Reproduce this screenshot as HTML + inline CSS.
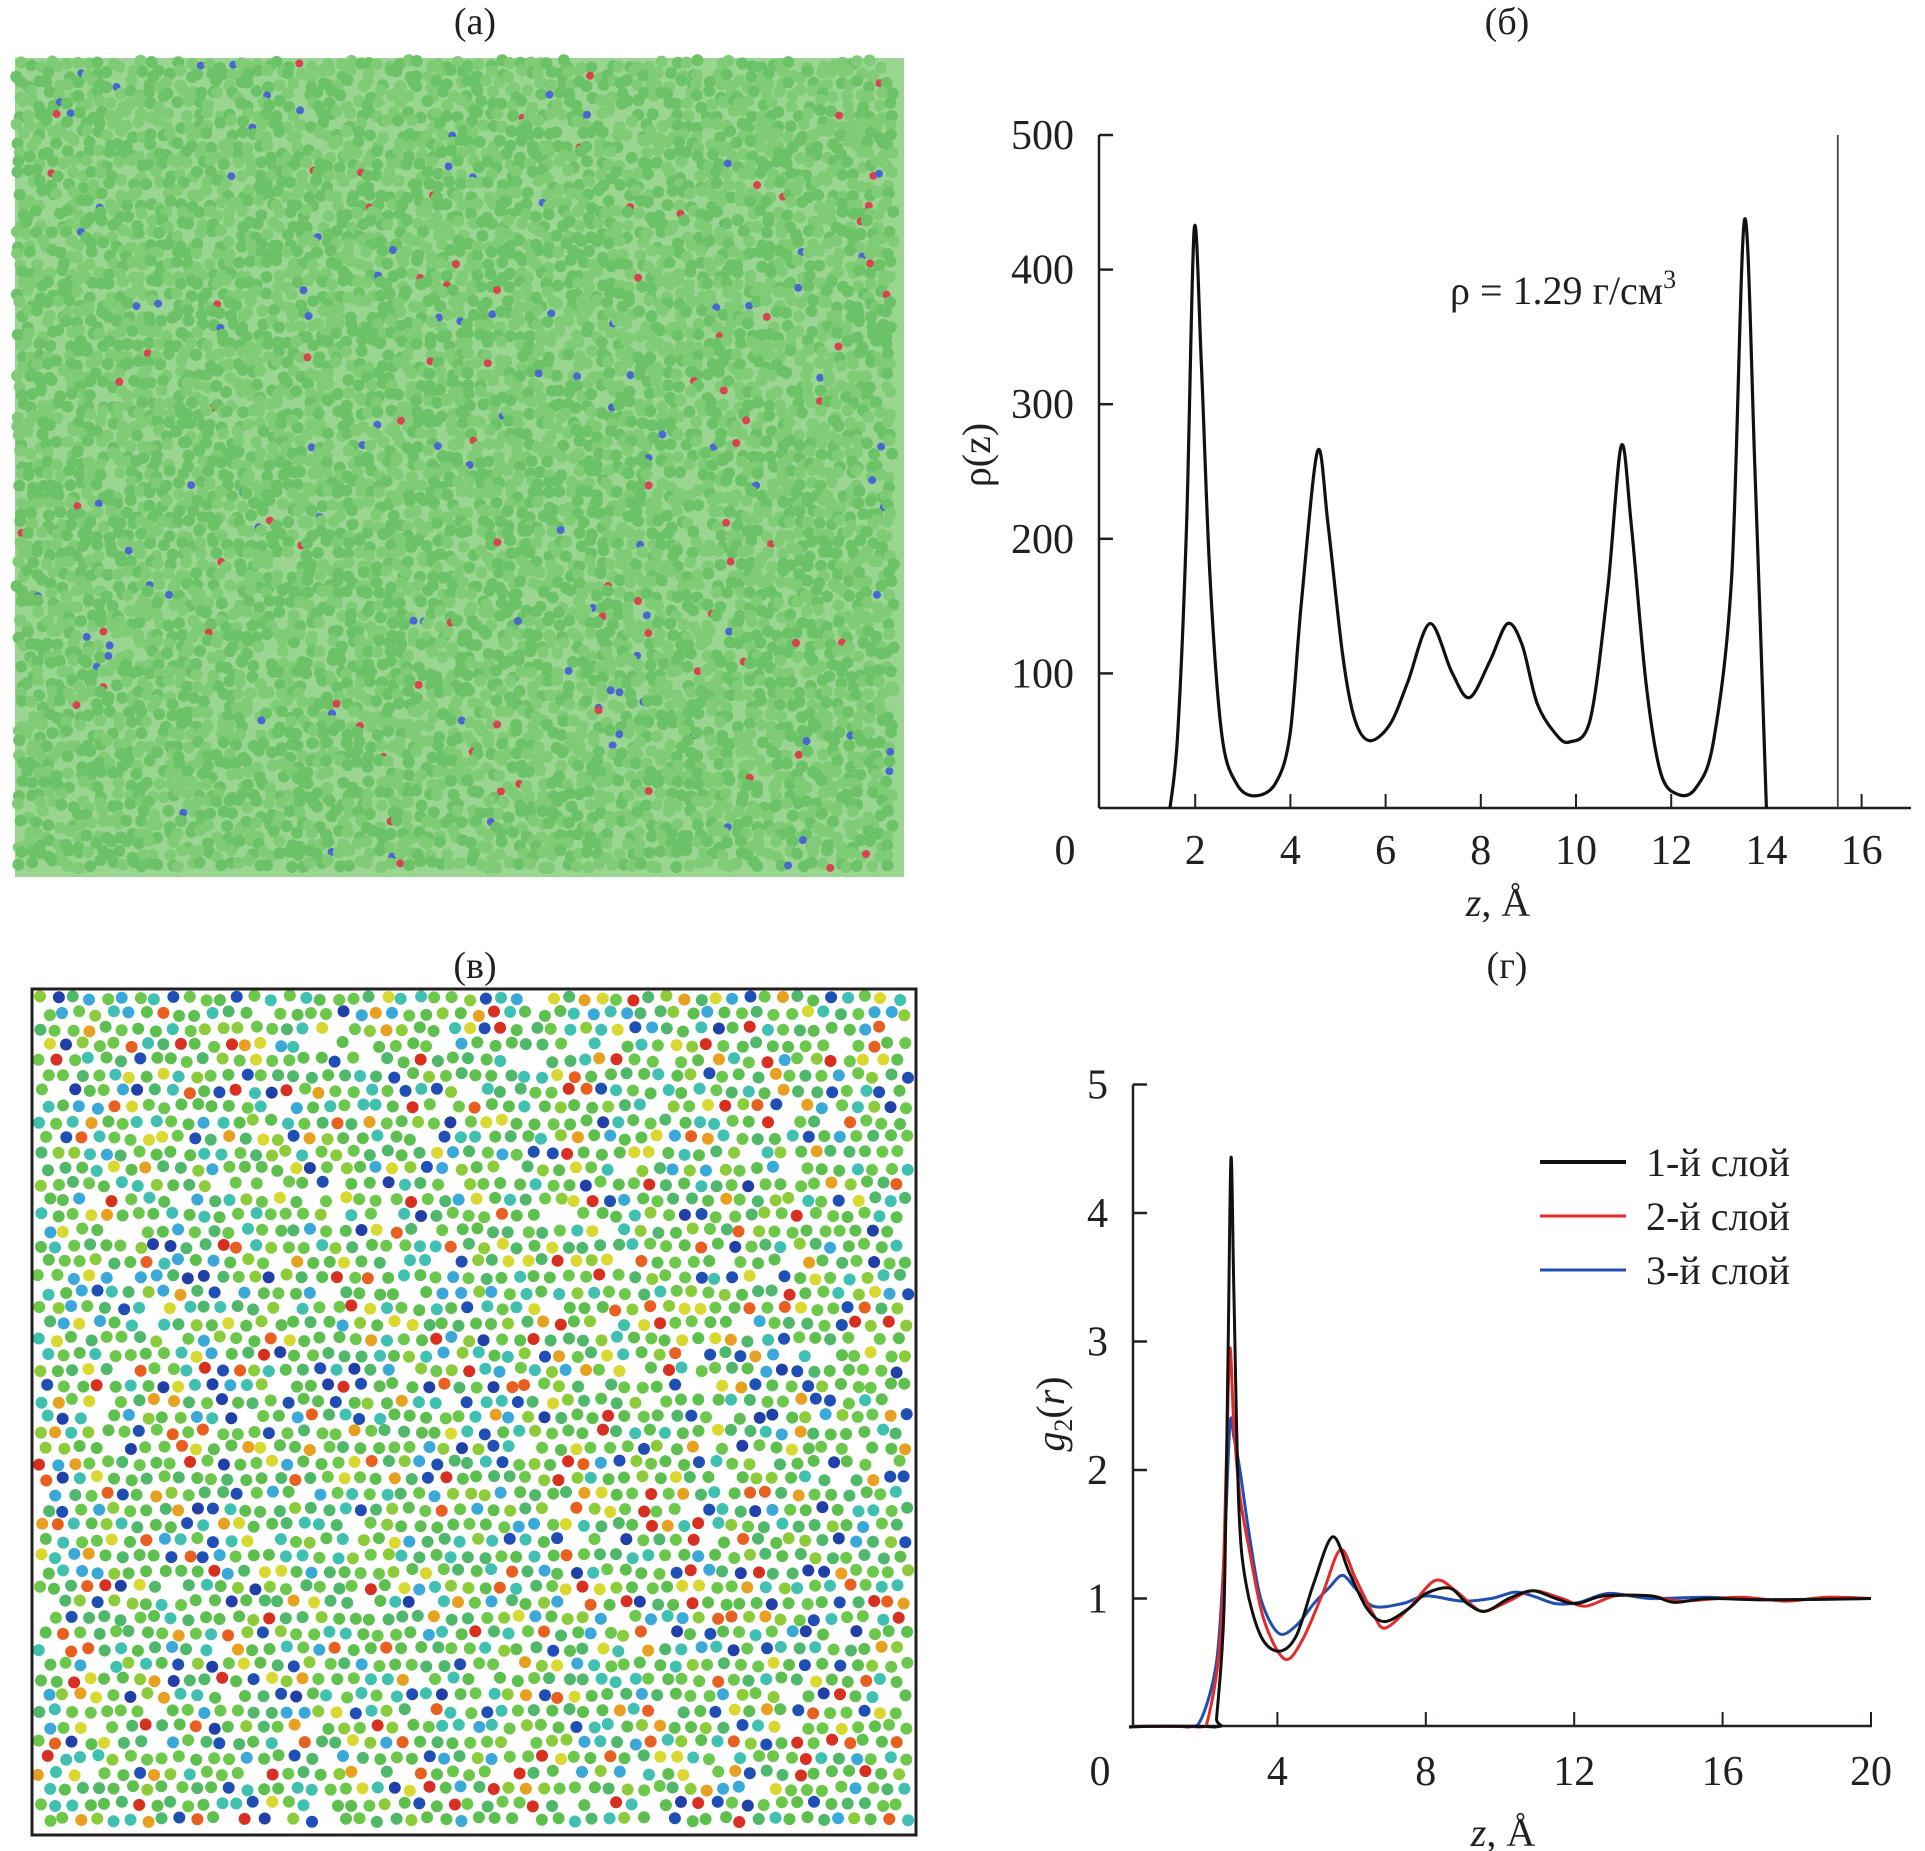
<!DOCTYPE html>
<html><head><meta charset="utf-8">
<style>
html,body{margin:0;padding:0;background:#fff;}
svg{display:block;font-family:"Liberation Serif","DejaVu Serif",serif;}
text{font-family:"Liberation Serif","DejaVu Serif",serif;fill:#231f20;}
</style></head>
<body>
<svg id="fig" width="1925" height="1851" viewBox="0 0 1925 1851" xmlns="http://www.w3.org/2000/svg" font-family="Liberation Serif, DejaVu Serif, serif">
  <text x="475" y="34" font-size="38" text-anchor="middle">(а)</text>
  <text x="1507" y="34" font-size="38" text-anchor="middle">(б)</text>
  <text x="475" y="978" font-size="38" text-anchor="middle">(в)</text>
  <text x="1507" y="978" font-size="38" text-anchor="middle">(г)</text>

  <g id="panelA">
    <rect x="15" y="58" width="889" height="819" fill="#9ad692"/>
  </g>
  <g id="panelC"></g>
  <rect x="32" y="989" width="884" height="846" fill="none" stroke="#231f20" stroke-width="3"/>

  <g id="chartB">
    <text transform="translate(990,455) rotate(-90)" font-size="40" text-anchor="middle">ρ(z)</text>
    <text x="1498" y="916" font-size="40" text-anchor="middle"><tspan font-style="italic">z</tspan>, Å</text>
    <text x="1450" y="304" font-size="40">ρ = 1.29 г/см<tspan font-size="26" dy="-16">3</tspan></text>
  </g>
  <g id="chartD">
    <text transform="translate(1064,1414) rotate(-90)" font-size="40" text-anchor="middle"><tspan font-style="italic">g</tspan><tspan font-size="26" dy="8">2</tspan><tspan dy="-8">(</tspan><tspan font-style="italic">r</tspan>)</text>
    <text x="1503" y="1846" font-size="40" text-anchor="middle"><tspan font-style="italic">z</tspan>, Å</text>
  </g>
</svg>
<script>
// ---------- Chart (б) data ----------
const rhoZ = [1.47,1.63,1.82,1.98,2.13,2.31,2.56,2.87,3.24,3.68,3.99,4.23,4.57,4.79,5.1,5.35,5.66,6.09,6.46,6.93,7.39,7.76,8.19,8.56,8.87,9.18,9.55,9.86,10.3,10.67,10.95,11.16,11.47,11.78,12.15,12.52,12.89,13.27,13.54,13.76,14.0];
const rhoVal = [0,54,211,430,329,172,54,18,9,18,54,152,265,211,113,66,50,62,93,137,101,82,109,137,121,78,56,49,66,164,269,211,93,26,10,15,50,172,437,250,0];
const rhoYTicks = [100,200,300,400,500];
const rhoXTicks = [2,4,6,8,10,12,14,16];
const boxEdgeZ = [15.5];

// ---------- Chart (г) data ----------
const gZ1 = [0,2.32,2.36,2.56,2.67,2.75,2.83,2.96,3.15,3.55,4.03,4.51,4.98,5.49,5.94,6.42,6.89,7.53,8.01,8.65,9.12,9.6,10.24,10.88,11.5,12.07,12.8,14.06,14.7,15.6,17.2,20];
const gV1 = [0,0,0.07,0.92,2.93,4.43,3.34,1.72,1.12,0.71,0.59,0.71,1.12,1.48,1.2,0.92,0.82,0.92,1.04,1.08,0.96,0.9,1.0,1.06,1.0,0.96,1.02,1.02,0.97,1.0,0.99,1.0];
const gZ2 = [0,1.9,2.12,2.47,2.63,2.72,2.83,2.99,3.23,3.63,4.19,4.66,5.22,5.7,6.1,6.58,6.9,7.53,8.25,8.8,9.28,9.6,10.24,10.88,11.67,12.3,13.1,14.06,14.86,16.45,17.7,18.8,20];
const gV2 = [0,0,0.05,0.71,2.13,2.95,2.33,1.8,1.4,0.84,0.53,0.67,1.04,1.38,1.16,0.88,0.77,0.92,1.14,1.06,0.94,0.9,0.98,1.06,1.0,0.94,1.02,1.02,0.98,1.01,0.98,1.01,1.0];
const gZ3 = [0,1.6,1.96,2.36,2.56,2.72,2.83,2.99,3.23,3.55,4.03,4.51,4.98,5.38,5.75,6.1,6.58,7.37,8.01,8.97,9.76,10.4,10.88,11.5,12.14,12.94,14.06,15.6,17.2,20];
const gV3 = [0,0,0.07,0.51,1.32,2.35,2.25,2.0,1.52,1.0,0.73,0.79,0.96,1.08,1.18,1.08,0.94,0.96,1.02,0.98,1.0,1.05,1.02,0.96,0.97,1.04,1.0,1.01,0.99,1.0];
const gSeriesNames = ["1-й слой","2-й слой","3-й слой"];
const gYTicks = [1,2,3,4,5];
const gXTicks = [4,8,12,16,20];

const NS = "http://www.w3.org/2000/svg";
function mk(parent, tag, attrs){ const e=document.createElementNS(NS,tag); for(const k in attrs) e.setAttribute(k,attrs[k]); parent.appendChild(e); return e; }
function spline(pts, ymax){
  let d = "M"+pts[0][0].toFixed(1)+","+pts[0][1].toFixed(1);
  for(let i=0;i<pts.length-1;i++){
    const p0=pts[Math.max(0,i-1)],p1=pts[i],p2=pts[i+1],p3=pts[Math.min(pts.length-1,i+2)];
    const t=0.16;
    const c1=[p1[0]+(p2[0]-p0[0])*t, Math.min(ymax,p1[1]+(p2[1]-p0[1])*t)];
    const c2=[p2[0]-(p3[0]-p1[0])*t, Math.min(ymax,p2[1]-(p3[1]-p1[1])*t)];
    d+=" C"+c1[0].toFixed(1)+","+c1[1].toFixed(1)+" "+c2[0].toFixed(1)+","+c2[1].toFixed(1)+" "+p2[0].toFixed(1)+","+p2[1].toFixed(1);
  }
  return d;
}

// ---- Chart б axes ----
const B = document.getElementById('chartB');
const bx = z => 1100 + z*47.6;
const by = v => 808 - v*1.346;
let e;
e = mk(B,'line',{x1:1099,y1:by(500),x2:1099,y2:808,stroke:'#231f20','stroke-width':2.5});
 
e = mk(B,'line',{x1:1099,y1:808,x2:1911,y2:808,stroke:'#231f20','stroke-width':2.5});
 
rhoYTicks.forEach(v=>{
  e = mk(B,'line',{x1:1099,y1:by(v),x2:1113,y2:by(v),stroke:'#231f20','stroke-width':2.5});
   
  e = mk(B,'text',{x:1074,y:by(v)+14,'font-size':42,'text-anchor':'end'}); e.textContent=v;
   
});
e = mk(B,'text',{x:1065,y:864,'font-size':42,'text-anchor':'middle'}); e.textContent='0';
 
rhoXTicks.forEach(z=>{
  e = mk(B,'line',{x1:bx(z),y1:808,x2:bx(z),y2:794,stroke:'#231f20','stroke-width':2});
   
  e = mk(B,'text',{x:bx(z),y:864,'font-size':42,'text-anchor':'middle'}); e.textContent=z;
   
});
boxEdgeZ.forEach(z=>{
  e = mk(B,'line',{x1:bx(z),y1:by(500),x2:bx(z),y2:808,stroke:'#444','stroke-width':1.8});
   
});
e = mk(B,'path',{d:spline(rhoZ.map((z,i)=>[bx(z),by(rhoVal[i])]),808),fill:'none',stroke:'#111','stroke-width':3.2,'stroke-linejoin':'round'});
 

// ---- Chart г axes ----
const D = document.getElementById('chartD');
const dx = z => 1129 + z*37.1;
const dy = v => 1727 - v*128.5;
e = mk(D,'line',{x1:1133,y1:dy(5),x2:1133,y2:1726,stroke:'#231f20','stroke-width':2.5});
 
e = mk(D,'line',{x1:1133,y1:1726,x2:1872,y2:1726,stroke:'#231f20','stroke-width':2.5});
 
gYTicks.forEach(v=>{
  e = mk(D,'line',{x1:1133,y1:dy(v),x2:1147,y2:dy(v),stroke:'#231f20','stroke-width':2.5});
   
  e = mk(D,'text',{x:1108,y:dy(v)+14,'font-size':42,'text-anchor':'end'}); e.textContent=v;
   
});
e = mk(D,'text',{x:1100,y:1785,'font-size':42,'text-anchor':'middle'}); e.textContent='0';
 
gXTicks.forEach(z=>{
  e = mk(D,'line',{x1:dx(z),y1:1726,x2:dx(z),y2:1712,stroke:'#231f20','stroke-width':2});
   
  e = mk(D,'text',{x:dx(z),y:1785,'font-size':42,'text-anchor':'middle'}); e.textContent=z;
   
});
const gSeries = [[gZ1,gV1,'#111'],[gZ2,gV2,'#e52a2a'],[gZ3,gV3,'#1f4fb5']];
[2,1,0].forEach(k=>{
  const s=gSeries[k];
  e = mk(D,'path',{d:spline(s[0].map((z,i)=>[dx(z),dy(s[1][i])]),1726),fill:'none',stroke:s[2],'stroke-width':3,'stroke-linejoin':'round'});
   
});
gSeries.forEach((s,k)=>{
  const y = 1162 + k*54;
  e = mk(D,'line',{x1:1540,y1:y,x2:1626,y2:y,stroke:s[2],'stroke-width':k==0?4:3});
   
  e = mk(D,'text',{x:1646,y:y+14,'font-size':40}); e.textContent=gSeriesNames[k];
   
});

// ---- particle textures (decorative) ----
let seed=12345; const rnd=()=>{seed=(seed*1103515245+12345)%2147483648; return seed/2147483648;};
const A=document.getElementById('panelA');
let html='';
for(let y=64;y<874;y+=10){
  for(let x=20;x<900;x+=10){
    const px=x+rnd()*8-4, py=y+rnd()*8-4;
    const r=rnd();
    if(rnd()<0.12) continue;
    if(r<0.012) html+=`<circle cx="${px.toFixed(1)}" cy="${py.toFixed(1)}" r="4" fill="#d9434f"/>`;
    else if(r<0.024) html+=`<circle cx="${px.toFixed(1)}" cy="${py.toFixed(1)}" r="4" fill="#4a66d0"/>`;
    else html+=`<circle cx="${px.toFixed(1)}" cy="${py.toFixed(1)}" r="6" fill="${r<0.5?'#6cc266':'#80cc76'}"/>`;
  }
}
A.insertAdjacentHTML('beforeend',html);
const C=document.getElementById('panelC');
html='';
const pal=['#5cbf4e','#6cc84a','#4fb86a','#8ccc3a','#3fc0b0','#3aa8d8','#1f4fb5','#2040a8','#d8d830','#e8a020','#e86020','#d83020'];
const w=[20,18,12,8,12,7,5,3,5,3,4,3];
const tot=w.reduce((a,b)=>a+b,0);
let row=0;
for(let y=998;y<1830;y+=15.5,row++){
  for(let x=40+(row%2)*8;x<912;x+=16.5){
    let r=rnd()*tot,i=0; while(r>w[i]){r-=w[i];i++;}
    const px=x+rnd()*5-2.5, py=y+rnd()*5-2.5;
    if(rnd()<0.05) continue;
    html+=`<circle cx="${px.toFixed(1)}" cy="${py.toFixed(1)}" r="6" fill="${pal[i]}"/>`;
  }
}
C.insertAdjacentHTML('beforeend',html);
</script>
</body></html>
